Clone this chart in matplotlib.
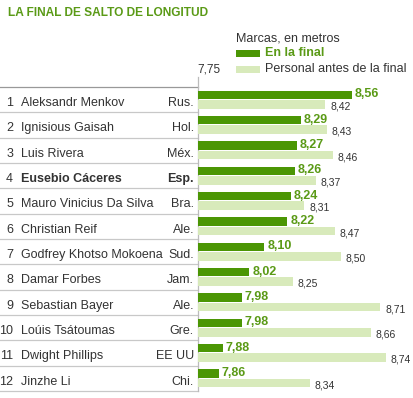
import matplotlib
matplotlib.use("Agg")
import matplotlib.pyplot as plt
from matplotlib.patches import Rectangle

plt.rcParams['font.family'] = ['Liberation Sans', 'DejaVu Sans']

ranks = [1, 2, 3, 4, 5, 6, 7, 8, 9, 10, 11, 12]
athletes = ["Aleksandr Menkov", "Ignisious Gaisah", "Luis Rivera", "Eusebio Cáceres",
            "Mauro Vinicius Da Silva", "Christian Reif", "Godfrey Khotso Mokoena",
            "Damar Forbes", "Sebastian Bayer", "Loúis Tsátoumas", "Dwight Phillips", "Jinzhe Li"]
countries = ["Rus.", "Hol.", "Méx.", "Esp.", "Bra.", "Ale.", "Sud.", "Jam.", "Ale.", "Gre.", "EE UU", "Chi."]
final_marks = [8.56, 8.29, 8.27, 8.26, 8.24, 8.22, 8.10, 8.02, 7.98, 7.98, 7.88, 7.86]
personal_marks = [8.42, 8.43, 8.46, 8.37, 8.31, 8.47, 8.50, 8.25, 8.71, 8.66, 8.74, 8.34]
highlight = "Eusebio Cáceres"
axis_start = 7.75
axis_label = "7,75"

title = "LA FINAL DE SALTO DE LONGITUD"
legend_title = "Marcas, en metros"
legend_final = "En la final"
legend_personal = "Personal antes de la final"

DARK = "#4b9604"
LIGHT = "#d8eabb"
GREEN_TXT = "#5a9a16"
TXT = "#333333"

W, H = 414, 398
fig = plt.figure(figsize=(W / 100, H / 100), dpi=100)

# overlay axes in pixel coordinates for text/lines
ov = fig.add_axes([0, 0, 1, 1])
ov.set_xlim(0, W)
ov.set_ylim(H, 0)
ov.axis("off")

axis_px = 198
scale = 190.0  # px per metre
ax = fig.add_axes([axis_px / W, 0, (W - axis_px) / W, 1])
ax.set_xlim(axis_start, axis_start + (W - axis_px) / scale)
ax.set_ylim(H, 0)
ax.axis("off")
ax.patch.set_alpha(0)

top = 87.0
step = 25.33
n = len(athletes)
centers = [top + step * (i + 0.5) for i in range(n)]
dark_y = [c - 4.8 for c in centers]
light_y = [c + 4.8 for c in centers]
bh = 8.6

ax.barh(dark_y, [v - axis_start for v in final_marks], left=axis_start, height=bh,
        color=DARK, linewidth=0)
ax.barh(light_y, [v - axis_start for v in personal_marks], left=axis_start, height=bh,
        color=LIGHT, linewidth=0)

for i in range(n):
    ax.text(final_marks[i] + 0.015, dark_y[i] - 0.5, f"{final_marks[i]:.2f}".replace(".", ","),
            color=GREEN_TXT, fontsize=9, fontweight="bold", va="center", ha="left")
    ax.text(personal_marks[i] + 0.025, light_y[i] + 2.0, f"{personal_marks[i]:.2f}".replace(".", ","),
            color=TXT, fontsize=7.5, va="center", ha="left")

# separators
ov.plot([0, axis_px], [top, top], color="#999999", lw=0.9)
for i in range(1, n + 1):
    y = top + step * i
    ov.plot([0, axis_px], [y, y], color="#c8c8c8", lw=0.9)
ov.plot([axis_px, axis_px], [77, top + step * n], color="#bbbbbb", lw=0.9)

for i in range(n):
    w = "bold" if athletes[i] == highlight else "normal"
    yc = centers[i] + 3.5
    ov.text(13, yc, str(ranks[i]), ha="right", va="center", fontsize=9, color=TXT)
    ov.text(21, yc, athletes[i], ha="left", va="center", fontsize=9, color=TXT, fontweight=w)
    ov.text(194, yc, countries[i], ha="right", va="center", fontsize=9, color=TXT, fontweight=w)

# title
ov.text(8, 13, title, ha="left", va="center", fontsize=8.6, fontweight="bold", color=GREEN_TXT)

# axis start label
ov.text(197, 70, axis_label, ha="left", va="center", fontsize=8.5, color=TXT)

# legend
ov.text(236, 38.5, legend_title, ha="left", va="center", fontsize=9, color=TXT)
ov.add_patch(Rectangle((236, 50), 24, 6.5, color=DARK, lw=0))
ov.text(265, 53, legend_final, ha="left", va="center", fontsize=9, color=GREEN_TXT, fontweight="bold")
ov.add_patch(Rectangle((236, 65.5), 24, 7.5, color=LIGHT, lw=0))
ov.text(265, 69.5, legend_personal, ha="left", va="center", fontsize=9, color=TXT)

fig.savefig("out.png", dpi=100)
